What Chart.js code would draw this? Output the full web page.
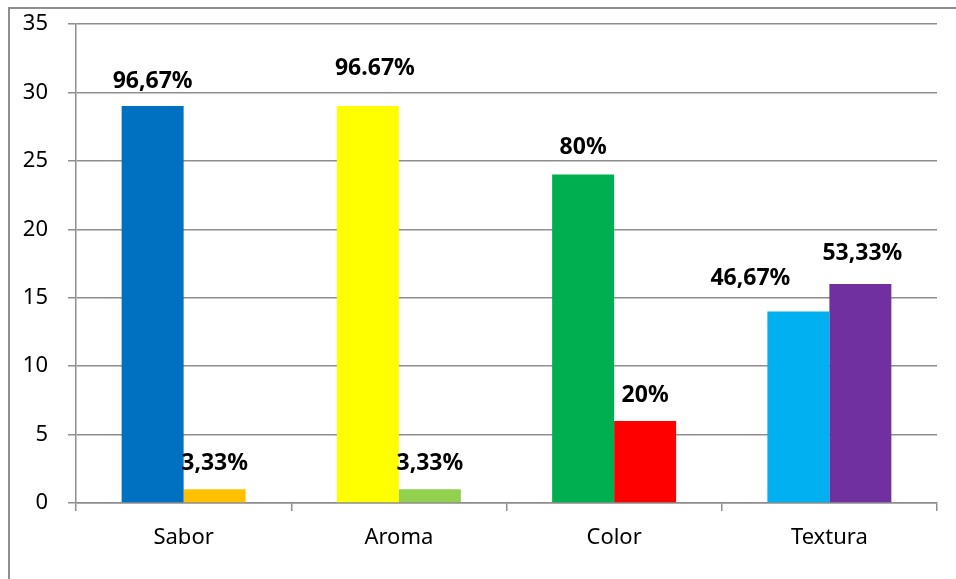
<!DOCTYPE html>
<html>
<head>
<meta charset="utf-8">
<script src="https://cdn.jsdelivr.net/npm/chart.js@4/dist/chart.umd.min.js"></script>
<style>
  body { margin: 0; background: #fff; }
  canvas { display: block; }
</style>
</head>
<body>
<canvas id="chart" width="956" height="579"></canvas>
<script>
// data
const categories = ['Sabor', 'Aroma', 'Color', 'Textura'];
const serieA = [29, 29, 24, 14];
const serieB = [1, 1, 6, 16];
const labelsA = ['96,67%', '96.67%', '80%', '46,67%'];
const labelsB = ['3,33%', '3,33%', '20%', '53,33%'];
const yTicks = { min: 0, max: 35, step: 5 };

const coloresA = ['#0070C0', '#FFFF00', '#00B050', '#00B0F0'];
const coloresB = ['#FFC000', '#92D050', '#FF0000', '#7030A0'];

// label placement relative to bar top: [dx, distance to baseline]
const offsA = [[0, 18], [7, 31], [0, 21], [-48, 26]];
const offsB = [[0, 19], [0, 19], [0, 19], [2, 24]];

const gris = '#8e8e8e';
const fuente = '"Noto Sans", sans-serif';

const marco = {
    id: 'marco',
    beforeDraw(chart) {
        let c = chart.ctx;
        c.save();
        c.strokeStyle = gris;
        c.lineWidth = 2;
        c.beginPath();
        c.moveTo(9, 579);
        c.lineTo(9, 8);
        c.lineTo(956, 8);
        c.stroke();
        c.restore();
    }
};

const etiquetas = {
    id: 'etiquetas',
    afterDatasetsDraw(chart) {
        let c = chart.ctx;
        c.save();
        c.font = 'bold 23px ' + fuente;
        c.fillStyle = '#000';
        c.textAlign = 'center';
        c.textBaseline = 'alphabetic';
        [[labelsA, offsA], [labelsB, offsB]].forEach(function(par, d) {
            chart.getDatasetMeta(d).data.forEach(function(bar, i) {
                c.fillText(par[0][i], bar.x + par[1][i][0], bar.y - par[1][i][1]);
            });
        });
        c.restore();
    }
};

let ctx = document.getElementById('chart');
new Chart(ctx, {
    type: 'bar',
    plugins: [marco, etiquetas],
    data: {
        labels: categories,
        datasets: [
            { data: serieA, backgroundColor: coloresA },
            { data: serieB, backgroundColor: coloresB }
        ]
    },
    options: {
        responsive: false,
        animation: false,
        categoryPercentage: 0.576,
        barPercentage: 1.0,
        layout: { padding: { left: 0, top: 24, right: 19, bottom: 0 } },
        plugins: {
            legend: { display: false },
            tooltip: { enabled: false }
        },
        scales: {
            x: {
                afterFit(s) { s.height = 76; },
                grid: { display: true, drawOnChartArea: false, tickLength: 8, color: gris, lineWidth: 1.5, offset: true },
                border: { display: true, color: gris, width: 1.5 },
                ticks: { color: '#000', padding: 14, font: { family: fuente, size: 22 } }
            },
            y: {
                min: yTicks.min,
                max: yTicks.max,
                afterFit(s) { s.width = 76; s.paddingTop = 0; s.paddingBottom = 0; },
                grid: { color: gris, lineWidth: 1.5, tickLength: 8 },
                border: { display: true, color: gris, width: 1.5 },
                ticks: { stepSize: yTicks.step, color: '#000', padding: 20, font: { family: fuente, size: 22 } }
            }
        }
    }
});
</script>
</body>
</html>
